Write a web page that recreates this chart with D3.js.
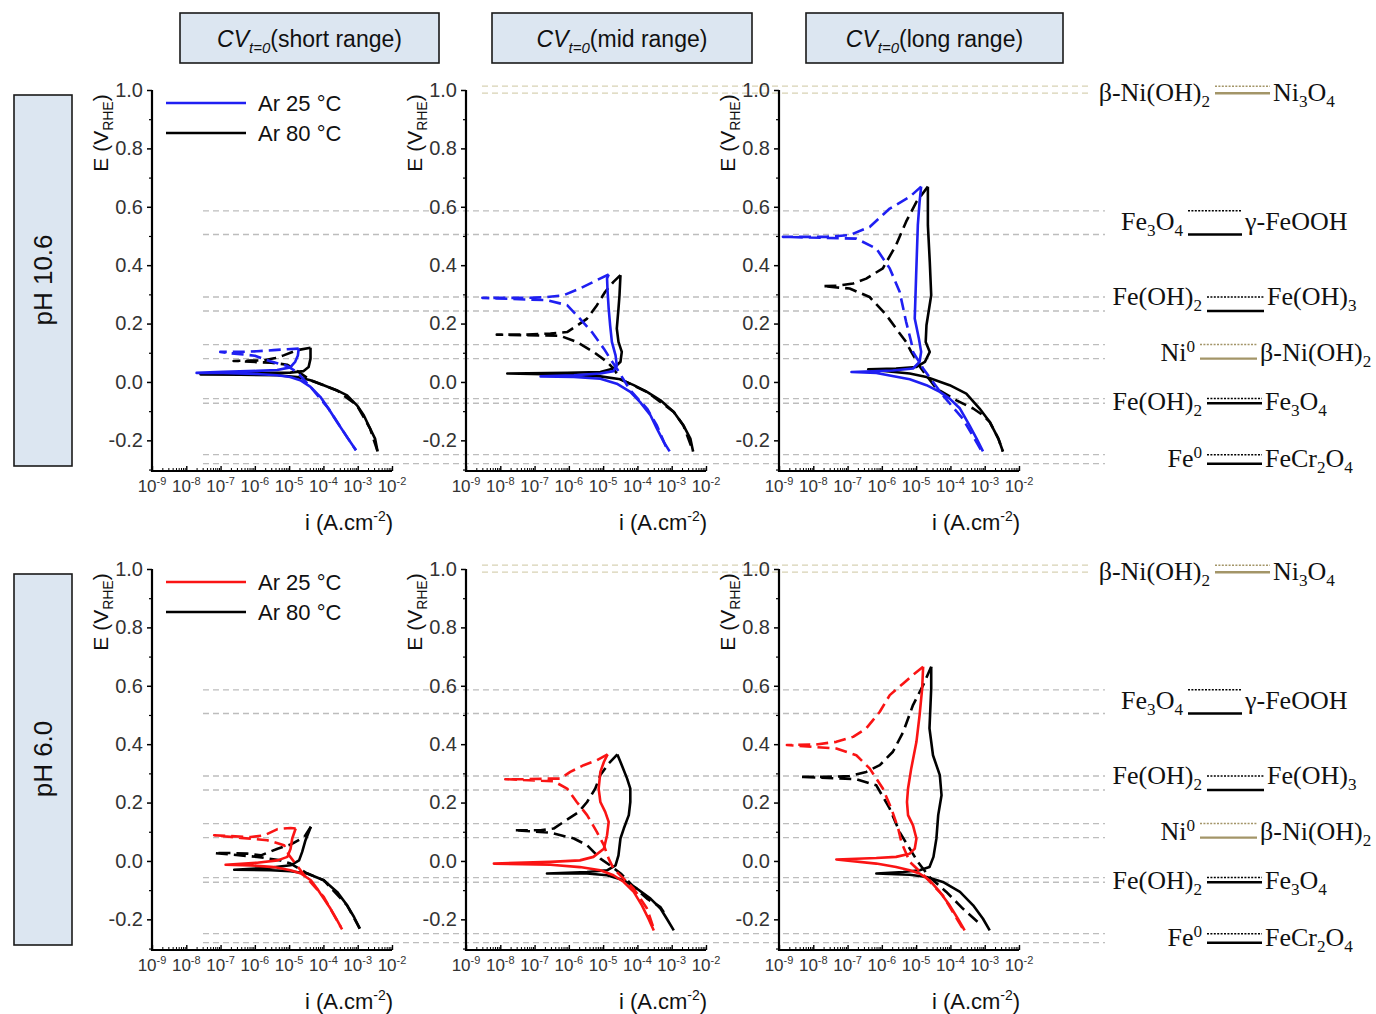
<!DOCTYPE html>
<html>
<head>
<meta charset="utf-8">
<script src="https://cdn.jsdelivr.net/npm/d3@7"></script>
<style>
  html, body { margin: 0; padding: 0; background: #fff; }
  svg { display: block; }
</style>
</head>
<body>
<svg id="chart" width="1376" height="1014"></svg>
<script>
// ---------- data: CV curves, [current density i (A/cm2), potential E (V vs RHE)] ----------
// pH 10.6, short range
const ph106Short25Fwd = [[8.9e-4,-0.234],[4.9e-4,-0.189],[2.5e-4,-0.137],[1.4e-4,-0.091],[8.1e-5,-0.051],[4.2e-5,-0.017],[2.1e-5,0.006],[1.07e-5,0.017],[4.5e-6,0.023],[1.15e-6,0.027],[1.2e-7,0.031],[2.0e-8,0.031],[1.2e-7,0.035],[1.15e-6,0.038],[4.5e-6,0.041],[1.07e-5,0.050],[1.5e-5,0.069],[1.8e-5,0.091],[1.9e-5,0.114]];
const ph106Short25Rev = [[1.9e-5,0.114],[8.7e-6,0.112],[3.5e-6,0.109],[1.15e-6,0.105],[3.8e-7,0.103],[9.8e-8,0.103],[2.0e-7,0.098],[1.0e-6,0.090],[2.8e-6,0.071],[8.7e-6,0.055],[1.7e-5,0.034],[4.2e-5,-0.017],[1.4e-4,-0.091],[4.9e-4,-0.189],[8.9e-4,-0.234]];
const ph106Short80Fwd = [[3.8e-3,-0.238],[3.2e-3,-0.194],[2.3e-3,-0.160],[1.5e-3,-0.114],[9.5e-4,-0.080],[4.9e-4,-0.046],[2.5e-4,-0.029],[1.02e-4,-0.011],[4.2e-5,0.006],[1.7e-5,0.017],[4.5e-6,0.023],[3.8e-7,0.025],[2.6e-8,0.026],[3.8e-7,0.030],[1.07e-5,0.032],[2.6e-5,0.037],[3.7e-5,0.051],[4.2e-5,0.080],[4.2e-5,0.117]];
const ph106Short80Rev = [[4.2e-5,0.117],[1.7e-5,0.109],[6.9e-6,0.091],[4.0e-6,0.082],[1.8e-6,0.074],[7.4e-7,0.073],[2.4e-7,0.072],[7.4e-7,0.069],[3.0e-6,0.066],[8.7e-6,0.059],[1.35e-5,0.046],[4.2e-5,0.006],[2.5e-4,-0.029],[9.5e-4,-0.080],[2.3e-3,-0.160],[3.8e-3,-0.238]];
// pH 10.6, mid range
const ph106Mid25Fwd = [[8.7e-4,-0.238],[5.9e-4,-0.206],[3.7e-4,-0.160],[2.4e-4,-0.114],[1.2e-4,-0.069],[6.2e-5,-0.034],[2.5e-5,-0.006],[8.3e-6,0.011],[1.4e-6,0.017],[1.5e-7,0.019],[1.4e-6,0.023],[8.3e-6,0.029],[2.0e-5,0.037],[2.5e-5,0.057],[2.3e-5,0.091],[1.8e-5,0.137],[1.6e-5,0.194],[1.45e-5,0.251],[1.35e-5,0.309],[1.3e-5,0.354],[1.45e-5,0.368]];
const ph106Mid25Rev = [[1.45e-5,0.368],[5.2e-6,0.343],[2.1e-6,0.320],[7.1e-7,0.297],[2.3e-7,0.291],[6.0e-8,0.288],[1.0e-8,0.288],[3.0e-9,0.288],[2.3e-7,0.280],[8.9e-7,0.263],[2.1e-6,0.217],[4.7e-6,0.171],[1.05e-5,0.114],[1.6e-5,0.080],[2.5e-5,0.046],[6.2e-5,-0.029],[1.9e-4,-0.091],[3.7e-4,-0.149],[7.2e-4,-0.229]];
const ph106Mid80Fwd = [[4.2e-3,-0.238],[3.5e-3,-0.194],[2.2e-3,-0.149],[1.15e-3,-0.103],[4.7e-4,-0.063],[1.9e-4,-0.034],[7.8e-5,-0.011],[3.2e-5,0.009],[8.3e-6,0.019],[8.9e-7,0.025],[1.6e-8,0.029],[8.9e-7,0.031],[8.3e-6,0.034],[2.0e-5,0.046],[3.2e-5,0.069],[3.5e-5,0.103],[2.8e-5,0.137],[2.5e-5,0.183],[2.8e-5,0.251],[3.0e-5,0.297],[3.2e-5,0.366]];
const ph106Mid80Rev = [[3.2e-5,0.366],[2.0e-5,0.343],[1.15e-5,0.309],[6.6e-6,0.263],[3.4e-6,0.217],[1.7e-6,0.192],[8.9e-7,0.171],[2.9e-7,0.166],[6.0e-8,0.162],[7.9e-9,0.162],[5.6e-7,0.158],[1.7e-6,0.137],[5.2e-6,0.103],[1.3e-5,0.069],[2.0e-5,0.046],[3.2e-5,0.009],[1.9e-4,-0.034],[1.15e-3,-0.103],[2.2e-3,-0.149],[4.2e-3,-0.238]];
// pH 10.6, long range
const ph106Long25Fwd = [[8.9e-4,-0.238],[5.8e-4,-0.194],[3.6e-4,-0.149],[1.9e-4,-0.091],[9.5e-5,-0.057],[4.9e-5,-0.034],[2.0e-5,-0.011],[6.5e-6,0.009],[6.9e-7,0.031],[1.3e-7,0.034],[2.1e-6,0.039],[8.1e-6,0.046],[1.26e-5,0.069],[1.4e-5,0.103],[1.2e-5,0.149],[9.1e-6,0.217],[1.0e-5,0.366],[1.12e-5,0.537],[1.26e-5,0.617],[1.4e-5,0.669]];
const ph106Long25Rev = [[1.4e-5,0.669],[6.5e-6,0.634],[1.7e-6,0.594],[4.4e-7,0.531],[1.15e-7,0.503],[2.4e-8,0.497],[5.0e-9,0.497],[1.3e-9,0.497],[1.8e-7,0.491],[6.9e-7,0.457],[1.7e-6,0.389],[3.3e-6,0.309],[5.1e-6,0.206],[7.2e-6,0.137],[8.1e-6,0.103],[1.6e-5,0.046],[6.0e-5,-0.046],[2.3e-4,-0.126],[7.9e-4,-0.234]];
const ph106Long80Fwd = [[3.4e-3,-0.238],[2.5e-3,-0.194],[1.4e-3,-0.137],[7.1e-4,-0.091],[2.9e-4,-0.040],[9.5e-5,-0.011],[2.0e-5,0.017],[6.5e-6,0.029],[6.9e-7,0.040],[4.0e-7,0.043],[2.6e-6,0.046],[1.0e-5,0.051],[1.8e-5,0.069],[2.5e-5,0.103],[1.9e-5,0.137],[2.0e-5,0.194],[2.75e-5,0.297],[2.5e-5,0.411],[2.2e-5,0.537],[2.2e-5,0.669]];
const ph106Long80Rev = [[2.2e-5,0.669],[1.02e-5,0.617],[5.1e-6,0.549],[2.6e-6,0.469],[1.07e-6,0.389],[3.5e-7,0.354],[1.45e-7,0.337],[4.7e-8,0.329],[1.9e-8,0.328],[1.15e-7,0.320],[4.4e-7,0.291],[1.35e-6,0.229],[2.6e-6,0.183],[5.1e-6,0.137],[7.2e-6,0.103],[1.4e-5,0.046],[3.9e-5,-0.023],[1.5e-4,-0.063],[4.6e-4,-0.091],[8.9e-4,-0.114],[1.4e-3,-0.137],[2.5e-3,-0.194],[3.4e-3,-0.238]];
// pH 6.0, short range
const ph60Short25Fwd = [[3.5e-4,-0.234],[2.5e-4,-0.203],[1.6e-4,-0.163],[1.02e-4,-0.129],[6.6e-5,-0.095],[4.3e-5,-0.066],[2.2e-5,-0.043],[1.1e-5,-0.032],[3.6e-6,-0.021],[7.6e-7,-0.015],[1.4e-7,-0.013],[1.17e-6,-0.006],[4.6e-6,0.002],[8.9e-6,0.014],[1.1e-5,0.042],[1.23e-5,0.077],[1.55e-5,0.111]];
const ph60Short25Rev = [[1.55e-5,0.111],[1.1e-5,0.113],[4.6e-6,0.109],[1.9e-6,0.088],[7.6e-7,0.082],[2.0e-7,0.085],[6.5e-8,0.088],[3.9e-7,0.079],[2.3e-6,0.071],[7.1e-6,0.054],[1.0e-5,0.019],[2.7e-5,-0.047],[1.02e-4,-0.123],[3.2e-4,-0.226]];
const ph60Short80Fwd = [[1.15e-3,-0.232],[7.8e-4,-0.192],[4.9e-4,-0.152],[2.5e-4,-0.106],[1.02e-4,-0.066],[3.4e-5,-0.043],[1.1e-5,-0.035],[2.9e-6,-0.032],[2.5e-7,-0.030],[2.3e-6,-0.024],[1.1e-5,-0.015],[1.95e-5,0.002],[2.4e-5,0.031],[3.0e-5,0.071],[4.3e-5,0.117]];
const ph60Short80Rev = [[4.3e-5,0.117],[2.75e-5,0.082],[1.1e-5,0.056],[4.6e-6,0.042],[1.5e-6,0.019],[6.0e-7,0.025],[2.0e-7,0.027],[6.5e-8,0.027],[1.17e-6,0.014],[5.6e-6,0.002],[1.1e-5,-0.009],[3.4e-5,-0.043],[1.02e-4,-0.066],[4.9e-4,-0.152],[1.15e-3,-0.232]];
// pH 6.0, mid range
const ph60Mid25Fwd = [[3.0e-4,-0.238],[2.1e-4,-0.198],[1.35e-4,-0.152],[7.8e-5,-0.106],[4.0e-5,-0.072],[2.0e-5,-0.049],[8.3e-6,-0.032],[2.1e-6,-0.021],[2.9e-7,-0.013],[6.5e-9,-0.009],[2.9e-7,-0.003],[2.1e-6,0.002],[5.2e-6,0.014],[1.05e-5,0.042],[1.3e-5,0.088],[1.45e-5,0.134],[1.15e-5,0.168],[8.3e-6,0.202],[7.4e-6,0.248],[8.3e-6,0.305],[1.05e-5,0.339],[1.35e-5,0.365]];
const ph60Mid25Rev = [[1.35e-5,0.365],[6.6e-6,0.345],[2.7e-6,0.328],[1.1e-6,0.305],[5.6e-7,0.282],[2.3e-7,0.282],[6.0e-8,0.280],[1.4e-8,0.280],[3.6e-7,0.273],[8.9e-7,0.248],[1.7e-6,0.202],[3.4e-6,0.157],[6.6e-6,0.099],[1.05e-5,0.054],[1.45e-5,0.008],[2.0e-5,-0.026],[7.8e-5,-0.095],[1.9e-4,-0.163],[3.0e-4,-0.232]];
const ph60Mid80Fwd = [[1.15e-3,-0.238],[7.2e-4,-0.198],[4.7e-4,-0.163],[2.4e-4,-0.129],[9.8e-5,-0.095],[4.0e-5,-0.066],[1.3e-5,-0.049],[3.4e-6,-0.043],[2.3e-7,-0.043],[3.4e-6,-0.038],[1.3e-5,-0.032],[2.3e-5,-0.015],[2.8e-5,0.019],[3.2e-5,0.077],[4.0e-5,0.111],[5.6e-5,0.157],[6.2e-5,0.202],[6.2e-5,0.248],[5.0e-5,0.282],[3.5e-5,0.328],[2.6e-5,0.365]];
const ph60Mid80Rev = [[2.6e-5,0.365],[1.45e-5,0.334],[8.3e-6,0.294],[5.9e-6,0.248],[3.4e-6,0.202],[1.95e-6,0.168],[7.1e-7,0.134],[3.6e-7,0.111],[1.5e-7,0.105],[2.5e-8,0.105],[2.9e-7,0.097],[1.4e-6,0.077],[3.4e-6,0.054],[8.3e-6,0.008],[1.6e-5,-0.015],[3.4e-5,-0.045],[7.8e-5,-0.089],[1.9e-4,-0.129],[4.7e-4,-0.158],[7.2e-4,-0.192]];
// pH 6.0, long range
const ph60Long25Fwd = [[2.6e-4,-0.238],[1.65e-4,-0.198],[9.5e-5,-0.152],[4.9e-5,-0.106],[2.45e-5,-0.066],[1.26e-5,-0.043],[6.5e-6,-0.032],[2.6e-6,-0.021],[6.9e-7,-0.009],[4.7e-8,0.005],[6.9e-7,0.010],[2.6e-6,0.014],[6.5e-6,0.025],[9.1e-6,0.042],[1.02e-5,0.077],[8.1e-6,0.122],[5.8e-6,0.157],[5.4e-6,0.202],[5.8e-6,0.248],[7.2e-6,0.317],[1.02e-5,0.408],[1.26e-5,0.499],[1.5e-5,0.591],[1.6e-5,0.665]];
const ph60Long25Rev = [[1.6e-5,0.665],[8.1e-6,0.637],[4.2e-6,0.608],[1.7e-6,0.568],[8.7e-7,0.511],[3.5e-7,0.454],[1.45e-7,0.425],[4.7e-8,0.408],[1.2e-8,0.399],[1.7e-9,0.397],[4.7e-8,0.385],[1.8e-7,0.362],[4.4e-7,0.317],[1.07e-6,0.248],[1.9e-6,0.179],[3.0e-6,0.111],[3.7e-6,0.065],[6.5e-6,-0.003],[1.6e-5,-0.047],[6.0e-5,-0.118],[2.3e-4,-0.232]];
const ph60Long80Fwd = [[1.4e-3,-0.238],[8.9e-4,-0.198],[4.6e-4,-0.152],[1.9e-4,-0.106],[6.0e-5,-0.072],[2.0e-5,-0.055],[6.5e-6,-0.047],[6.9e-7,-0.043],[4.2e-6,-0.038],[1.26e-5,-0.032],[2.45e-5,-0.021],[3.2e-5,0.014],[3.9e-5,0.077],[4.4e-5,0.157],[5.5e-5,0.225],[4.9e-5,0.294],[3.1e-5,0.362],[2.45e-5,0.454],[2.75e-5,0.591],[2.75e-5,0.665]];
const ph60Long80Rev = [[2.75e-5,0.665],[1.6e-5,0.602],[8.1e-6,0.534],[4.2e-6,0.442],[2.1e-6,0.374],[8.7e-7,0.328],[3.5e-7,0.305],[1.15e-7,0.291],[2.4e-8,0.288],[4.0e-9,0.288],[1.8e-7,0.280],[6.9e-7,0.259],[1.7e-6,0.179],[3.3e-6,0.099],[6.5e-6,0.042],[1.12e-5,-0.003],[2.45e-5,-0.055],[7.6e-5,-0.106],[2.3e-4,-0.163],[7.1e-4,-0.215]];

// ---------- labels and reference levels ----------
const rangeTitles = ["short range", "mid range", "long range"];
const rowTitles = ["pH 10.6", "pH 6.0"];
const seriesNames = ["Ar 25 °C", "Ar 80 °C"];
const yTicks = [-0.2, 0.0, 0.2, 0.4, 0.6, 0.8, 1.0];
const yMinorTicks = [-0.3, -0.1, 0.1, 0.3, 0.5, 0.7, 0.9];
const xTickExponents = [-9, -8, -7, -6, -5, -4, -3, -2];
// redox couples: equilibrium potentials at 25 °C (dotted) and 80 °C (solid)
const coupleLeft  = ["β-Ni(OH)_2", "Fe_3O_4", "Fe(OH)_2", "Ni^0", "Fe(OH)_2", "Fe^0"];
const coupleRight = ["Ni_3O_4", "γ-FeOOH", "Fe(OH)_3", "β-Ni(OH)_2", "Fe_3O_4", "FeCr_2O_4"];
const coupleE25 = [1.013, 0.586, 0.291, 0.128, -0.057, -0.249];
const coupleE80 = [0.989, 0.505, 0.243, 0.080, -0.073, -0.280];
const coupleIsNi = [true, false, false, true, false, false];

const rows = [
  [
    {f25: ph106Short25Fwd, r25: ph106Short25Rev, f80: ph106Short80Fwd, r80: ph106Short80Rev},
    {f25: ph106Mid25Fwd,   r25: ph106Mid25Rev,   f80: ph106Mid80Fwd,   r80: ph106Mid80Rev},
    {f25: ph106Long25Fwd,  r25: ph106Long25Rev,  f80: ph106Long80Fwd,  r80: ph106Long80Rev}
  ],
  [
    {f25: ph60Short25Fwd, r25: ph60Short25Rev, f80: ph60Short80Fwd, r80: ph60Short80Rev},
    {f25: ph60Mid25Fwd,   r25: ph60Mid25Rev,   f80: ph60Mid80Fwd,   r80: ph60Mid80Rev},
    {f25: ph60Long25Fwd,  r25: ph60Long25Rev,  f80: ph60Long80Fwd,  r80: ph60Long80Rev}
  ]
];

// ---------- layout ----------
const SANS = "'Liberation Sans', Arial, sans-serif";
const SERIF = "'Liberation Serif', 'Times New Roman', serif";
const colX = [152, 466, 779];
const plotW = 240;
const rowBox = [{top: 90, bottom: 471}, {top: 569, bottom: 950}];
const rowColors = ["#1f1ff2", "#fa1414"];
const headerBoxes = [[180, 259], [492, 260], [806, 257]];
const symbolX = [[1215, 1270], [1188, 1242], [1207, 1264], [1200, 1257], [1207, 1262], [1207, 1262]];
const labelBaseline = [101, 230, 305, 361, 410, 467];

const svg = d3.select("#chart");
svg.append("rect").attr("width", 1376).attr("height", 1014).attr("fill", "#fff");

const defs = svg.append("defs");
defs.append("filter").attr("id", "soft").attr("x", "-20%").attr("y", "-200%").attr("width", "140%").attr("height", "500%")
  .append("feGaussianBlur").attr("stdDeviation", 1.4);

// writes "Fe_3O_4" / "Ni^0" style formulas as tspans
function formula(textSel, str, size) {
  const parts = str.match(/[_^].|[^_^]+/g);
  let shift = 0;
  parts.forEach(p => {
    if (p[0] === "_" || p[0] === "^") {
      const target = p[0] === "_" ? 6 : -9;
      textSel.append("tspan").attr("font-size", size * 0.66).attr("dy", target - shift).text(p[1]);
      shift = target;
    } else {
      textSel.append("tspan").attr("font-size", size).attr("dy", -shift).text(p);
      shift = 0;
    }
  });
}

// ---------- column headers ----------
headerBoxes.forEach(([x, w], k) => {
  svg.append("rect").attr("x", x).attr("y", 13).attr("width", w).attr("height", 50)
    .attr("fill", "#dce6f1").attr("stroke", "#1a1a1a").attr("stroke-width", 1.6);
  const t = svg.append("text").attr("x", x + w / 2).attr("y", 47).attr("text-anchor", "middle")
    .attr("font-family", SANS).attr("font-size", 23).attr("fill", "#111");
  t.append("tspan").attr("font-style", "italic").text("CV");
  t.append("tspan").attr("font-style", "italic").attr("font-size", 15).attr("dy", 6).text("t=0");
  t.append("tspan").attr("dy", -6).text("(" + rangeTitles[k] + ")");
});

// ---------- rows ----------
rows.forEach((panels, r) => {
  const {top, bottom} = rowBox[r];
  const y = d3.scaleLinear().domain([-0.305, 1.0]).range([bottom, top]);

  // row title box
  svg.append("rect").attr("x", 14).attr("y", top + 5).attr("width", 58).attr("height", 371)
    .attr("fill", "#dce6f1").attr("stroke", "#1a1a1a").attr("stroke-width", 1.6);
  svg.append("text").attr("transform", `translate(52,${top + 190}) rotate(-90)`)
    .attr("text-anchor", "middle").attr("font-family", SANS).attr("font-size", 26).attr("fill", "#111")
    .text(rowTitles[r]);

  // equilibrium-potential reference lines across the row
  coupleE25.forEach((e25, k) => {
    [e25, coupleE80[k]].forEach(e => {
      const ni = k === 0;
      svg.append("line")
        .attr("x1", ni ? 482 : 203).attr("x2", ni ? 1090 : 1105)
        .attr("y1", y(e)).attr("y2", y(e))
        .attr("stroke", ni ? "#d8d2b4" : "#bdbdbd").attr("stroke-width", 1.3)
        .attr("stroke-dasharray", "6,4");
    });
  });

  // redox couple key on the right
  coupleE25.forEach((e25, k) => {
    const [sx1, sx2] = symbolX[k];
    const col = coupleIsNi[k] ? "#a39568" : "#000";
    const ys = y(coupleE80[k]);
    svg.append("line").attr("x1", sx1 + 1).attr("x2", sx2 + 1).attr("y1", ys + 3).attr("y2", ys + 3)
      .attr("stroke", "#9a9a9a").attr("stroke-width", 3).attr("filter", "url(#soft)").attr("opacity", 0.8);
    svg.append("line").attr("x1", sx1).attr("x2", sx2).attr("y1", ys).attr("y2", ys)
      .attr("stroke", col).attr("stroke-width", 2.4);
    svg.append("line").attr("x1", sx1).attr("x2", sx2).attr("y1", y(e25)).attr("y2", y(e25))
      .attr("stroke", col).attr("stroke-width", 1.5).attr("stroke-dasharray", "2,1.4");
    const by = labelBaseline[k] + (top - rowBox[0].top);
    const tl = svg.append("text").attr("x", sx1 - 5).attr("y", by).attr("text-anchor", "end")
      .attr("font-family", SERIF).attr("fill", "#111");
    formula(tl, coupleLeft[k], 26);
    const tr = svg.append("text").attr("x", sx2 + 3).attr("y", by).attr("text-anchor", "start")
      .attr("font-family", SERIF).attr("fill", "#111");
    formula(tr, coupleRight[k], 26);
  });

  panels.forEach((p, c) => {
    const x0 = colX[c];
    const x = d3.scaleLog().domain([1e-9, 1e-2]).range([x0, x0 + plotW]);
    const g = svg.append("g");

    // y axis
    const yAxis = d3.axisLeft(y).tickValues(yTicks).tickSize(5).tickPadding(4)
      .tickFormat(d => d.toFixed(1));
    const ya = g.append("g").attr("transform", `translate(${x0},0)`).call(yAxis);
    ya.select(".domain").remove();
    ya.selectAll("line").attr("stroke", "#000").attr("stroke-width", 1.5);
    ya.selectAll("text").attr("font-family", SANS).attr("font-size", 20).attr("fill", "#333");
    const ym = g.append("g").attr("transform", `translate(${x0},0)`)
      .call(d3.axisLeft(y).tickValues(yMinorTicks).tickSize(3).tickFormat(""));
    ym.select(".domain").remove();
    ym.selectAll("line").attr("stroke", "#000").attr("stroke-width", 1.2);
    g.append("line").attr("x1", x0).attr("x2", x0).attr("y1", y(1.0)).attr("y2", bottom + 1)
      .attr("stroke", "#000").attr("stroke-width", 2.2);

    // x axis (log decades, minor ticks inside)
    const decades = xTickExponents.map(e => Math.pow(10, e));
    const minors = [];
    xTickExponents.slice(0, -1).forEach(e => { for (let m = 2; m <= 9; m++) minors.push(m * Math.pow(10, e)); });
    const xa = g.append("g").attr("transform", `translate(0,${bottom})`)
      .call(d3.axisBottom(x).tickValues(decades).tickSize(-5).tickFormat(""));
    xa.select(".domain").remove();
    xa.selectAll("line").attr("stroke", "#000").attr("stroke-width", 1.4);
    const xm = g.append("g").attr("transform", `translate(0,${bottom})`)
      .call(d3.axisBottom(x).tickValues(minors).tickSize(-3).tickFormat(""));
    xm.select(".domain").remove();
    xm.selectAll("line").attr("stroke", "#000").attr("stroke-width", 1);
    g.append("line").attr("x1", x0 - 1).attr("x2", x0 + plotW).attr("y1", bottom).attr("y2", bottom)
      .attr("stroke", "#000").attr("stroke-width", 2.2);
    xTickExponents.forEach(e => {
      const t = g.append("text").attr("x", x(Math.pow(10, e))).attr("y", bottom + 21)
        .attr("text-anchor", "middle").attr("font-family", SANS).attr("fill", "#333");
      t.append("tspan").attr("font-size", 17).text("10");
      t.append("tspan").attr("font-size", 11).attr("dy", -7).text(String(e));
    });

    // axis titles
    const yt = g.append("text")
      .attr("transform", `translate(${x0 - 44},${top + 43}) rotate(-90)`)
      .attr("text-anchor", "middle").attr("font-family", SANS).attr("font-size", 21).attr("fill", "#111");
    yt.append("tspan").text("E (V");
    yt.append("tspan").attr("font-size", 14).attr("dy", 5).text("RHE");
    yt.append("tspan").attr("dy", -5).text(")");
    const xt = g.append("text").attr("x", x0 + 197).attr("y", bottom + 59)
      .attr("text-anchor", "middle").attr("font-family", SANS).attr("font-size", 22).attr("fill", "#111");
    xt.append("tspan").text("i (A.cm");
    xt.append("tspan").attr("font-size", 14).attr("dy", -9).text("-2");
    xt.append("tspan").attr("dy", 9).text(")");

    // CV curves: forward sweep solid, reverse sweep dashed
    const line = d3.line().x(d => x(d[0])).y(d => y(d[1]));
    const curves = [
      {d: p.f80, col: "#000", dash: null},
      {d: p.r80, col: "#000", dash: "12,6"},
      {d: p.f25, col: rowColors[r], dash: null},
      {d: p.r25, col: rowColors[r], dash: "12,6"}
    ];
    curves.forEach(cv => {
      g.append("path").attr("d", line(cv.d)).attr("fill", "none")
        .attr("stroke", cv.col).attr("stroke-width", 2.6)
        .attr("stroke-linejoin", "round").attr("stroke-linecap", "butt")
        .attr("stroke-dasharray", cv.dash);
    });

    // legend in the first panel of each row
    if (c === 0) {
      [rowColors[r], "#000"].forEach((col, k) => {
        const ly = top + 13 + k * 30;
        g.append("line").attr("x1", 166).attr("x2", 246).attr("y1", ly).attr("y2", ly)
          .attr("stroke", col).attr("stroke-width", 2.4);
        g.append("text").attr("x", 258).attr("y", ly + 8).attr("font-family", SANS)
          .attr("font-size", 22).attr("fill", "#111").text(seriesNames[k]);
      });
    }
  });
});
</script>
</body>
</html>
